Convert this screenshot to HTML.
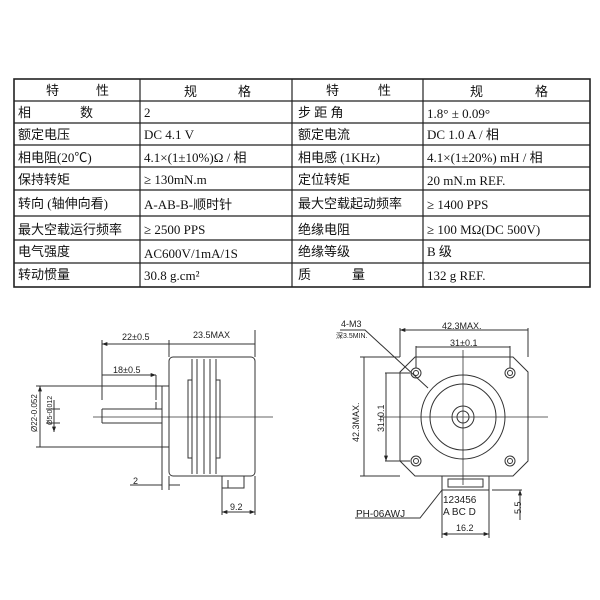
<!DOCTYPE html>
<html><head><meta charset="utf-8"><style>
body{margin:0;background:#fff;width:600px;height:600px;overflow:hidden;position:relative}
svg{position:absolute;left:0;top:0}
.t{font-family:"Liberation Serif","Noto Sans CJK SC",serif;font-size:13px;fill:#111}
.d{font-family:"Liberation Sans",sans-serif;font-size:9px;fill:#222}
</style></head><body>
<svg width="600" height="600" viewBox="0 0 600 600">
<defs><marker id="a" viewBox="0 0 8 6" refX="8" refY="3" markerWidth="6" markerHeight="4" orient="auto-start-reverse"><path d="M0 0L8 3L0 6Z" fill="#222"/></marker></defs>
<g stroke="#222" stroke-width="1.2" fill="none">
<rect x="14" y="79" width="576" height="208" stroke-width="1.6"/>
<line x1="140" y1="79" x2="140" y2="287"/><line x1="292" y1="79" x2="292" y2="287"/><line x1="423" y1="79" x2="423" y2="287"/>
<line x1="14" y1="101" x2="590" y2="101"/><line x1="14" y1="123" x2="590" y2="123"/><line x1="14" y1="145" x2="590" y2="145"/>
<line x1="14" y1="167" x2="590" y2="167"/><line x1="14" y1="190" x2="590" y2="190"/><line x1="14" y1="216" x2="590" y2="216"/>
<line x1="14" y1="240" x2="590" y2="240"/><line x1="14" y1="263" x2="590" y2="263"/>
</g>
<g class="t">
<text x="46" y="95">特</text><text x="96" y="95">性</text><text x="184" y="96">规</text><text x="238" y="96">格</text>
<text x="326" y="95">特</text><text x="378" y="95">性</text><text x="470" y="96">规</text><text x="535" y="96">格</text>
<text x="18" y="117">相</text><text x="80" y="117">数</text><text x="144" y="117">2</text><text x="298" y="117">步 距 角</text><text x="427" y="118">1.8°  ± 0.09°</text>
<text x="18" y="139">额定电压</text><text x="144" y="139">DC 4.1 V</text><text x="298" y="139">额定电流</text><text x="427" y="139">DC  1.0 A / 相</text>
<text x="18" y="162">相电阻(20℃)</text><text x="144" y="162">4.1×(1±10%)Ω / 相</text><text x="298" y="162">相电感 (1KHz)</text><text x="427" y="162">4.1×(1±20%) mH / 相</text>
<text x="18" y="184">保持转矩</text><text x="144" y="184">≥ 130mN.m</text><text x="298" y="184">定位转矩</text><text x="427" y="185">20 mN.m  REF.</text>
<text x="18" y="208">转向 (轴伸向看)</text><text x="144" y="209">A-AB-B-顺时针</text><text x="298" y="208">最大空载起动频率</text><text x="427" y="209">≥ 1400 PPS</text>
<text x="18" y="234">最大空载运行频率</text><text x="144" y="234">≥ 2500 PPS</text><text x="298" y="234">绝缘电阻</text><text x="427" y="234">≥ 100 MΩ(DC 500V)</text>
<text x="18" y="256">电气强度</text><text x="144" y="258">AC600V/1mA/1S</text><text x="298" y="256">绝缘等级</text><text x="427" y="256">B 级</text>
<text x="18" y="279">转动惯量</text><text x="144" y="280">30.8 g.cm²</text><text x="298" y="279">质</text><text x="352" y="279">量</text><text x="427" y="280">132 g  REF.</text>
</g>
<!-- side view -->
<g stroke="#333" stroke-width="1" fill="none">
<rect x="169" y="357" width="86" height="119" rx="4"/>
<path d="M192 359V474M197 359V474M204 359V474M210 359V474M216 359V474"/>
<path d="M192 380h-4v78h4M216 380h4v78h-4"/>
<rect x="162" y="386" width="7" height="61"/>
<path d="M102 409H162M102 423H162M102 409V423M156 409V402"/>
<line x1="93" y1="417" x2="273" y2="417" stroke-width="0.8"/>
<path d="M102 400V340M169 357V340M255 357V330"/>
<path d="M102 344H169M169 344H255M102 375H156" marker-start="url(#a)" marker-end="url(#a)"/>
<path d="M156 375V400"/>
<path d="M36 386H162M36 447H162M54 409V400M54 423V432M46 409H60M46 423H60"/>
<path d="M40 386V447M54 400V432" marker-start="url(#a)" marker-end="url(#a)"/>
<path d="M130 485H162M162 447V490M169 476V490M169 485H180"/>
<path d="M222 476v12h22v-12M228 488v-8M222 488V515M255 476V515"/>
<path d="M222 512H255" marker-start="url(#a)" marker-end="url(#a)"/>
</g>
<g class="d">
<text x="122" y="340">22±0.5</text><text x="193" y="338">23.5MAX</text><text x="113" y="373">18±0.5</text>
<text x="133" y="484">2</text><text x="230" y="510">9.2</text>
<text transform="translate(37,432) rotate(-90)" style="font-size:8px">Ø22-0.052</text>
<text transform="translate(52,425) rotate(-90)" style="font-size:7px">Ø5-0.012</text>
</g>
<!-- front view -->
<g stroke="#333" stroke-width="1" fill="none">
<path d="M415 357H513L528 372V461L513 476H415L400 461V372Z"/>
<circle cx="463" cy="417" r="42"/><circle cx="463" cy="417" r="33"/>
<circle cx="463" cy="417" r="11"/><circle cx="463" cy="417" r="6"/>
<line x1="463" y1="350" x2="463" y2="485" stroke-width="0.8"/><line x1="380" y1="417" x2="548" y2="417" stroke-width="0.8"/>
<circle cx="416" cy="373" r="5"/><circle cx="416" cy="373" r="2.5"/>
<circle cx="510" cy="373" r="5"/><circle cx="510" cy="373" r="2.5"/>
<circle cx="416" cy="461" r="5"/><circle cx="416" cy="461" r="2.5"/>
<circle cx="510" cy="461" r="5"/><circle cx="510" cy="461" r="2.5"/>
<path d="M400 357V328M528 357V328M416 368V346M510 368V346"/>
<path d="M400 330H528M416 347H510M364 357V476M386 373V461" marker-start="url(#a)" marker-end="url(#a)"/>
<path d="M360 357H400M360 476H400M385 373H410M385 461H410"/>
<path d="M340 330H365L428 388"/>
<rect x="442" y="476" width="47" height="14"/><rect x="448" y="479" width="35" height="8"/>
<path d="M442 490V538M489 490V538M492 490H522"/>
<path d="M442 534H489" marker-start="url(#a)" marker-end="url(#a)"/>
<path d="M520 520V490" marker-end="url(#a)"/>
<path d="M442 490L420 518H355"/>
</g>
<g class="d">
<text x="341" y="327" style="font-size:9px">4-M3</text>
<text x="336" y="338" style="font-size:7px">深3.5MIN.</text>
<text x="442" y="329">42.3MAX.</text><text x="450" y="346">31±0.1</text>
<text transform="translate(359,442) rotate(-90)">42.3MAX.</text>
<text transform="translate(384,432) rotate(-90)">31±0.1</text>
<text x="443" y="503" style="font-size:10px">123456</text>
<text x="443" y="515" style="font-size:10px">A  BC  D</text>
<text x="356" y="517" style="font-size:10px">PH-06AWJ</text>
<text x="456" y="531">16.2</text>
<text transform="translate(521,514) rotate(-90)">5.5</text>
</g>
</svg>
</body></html>
